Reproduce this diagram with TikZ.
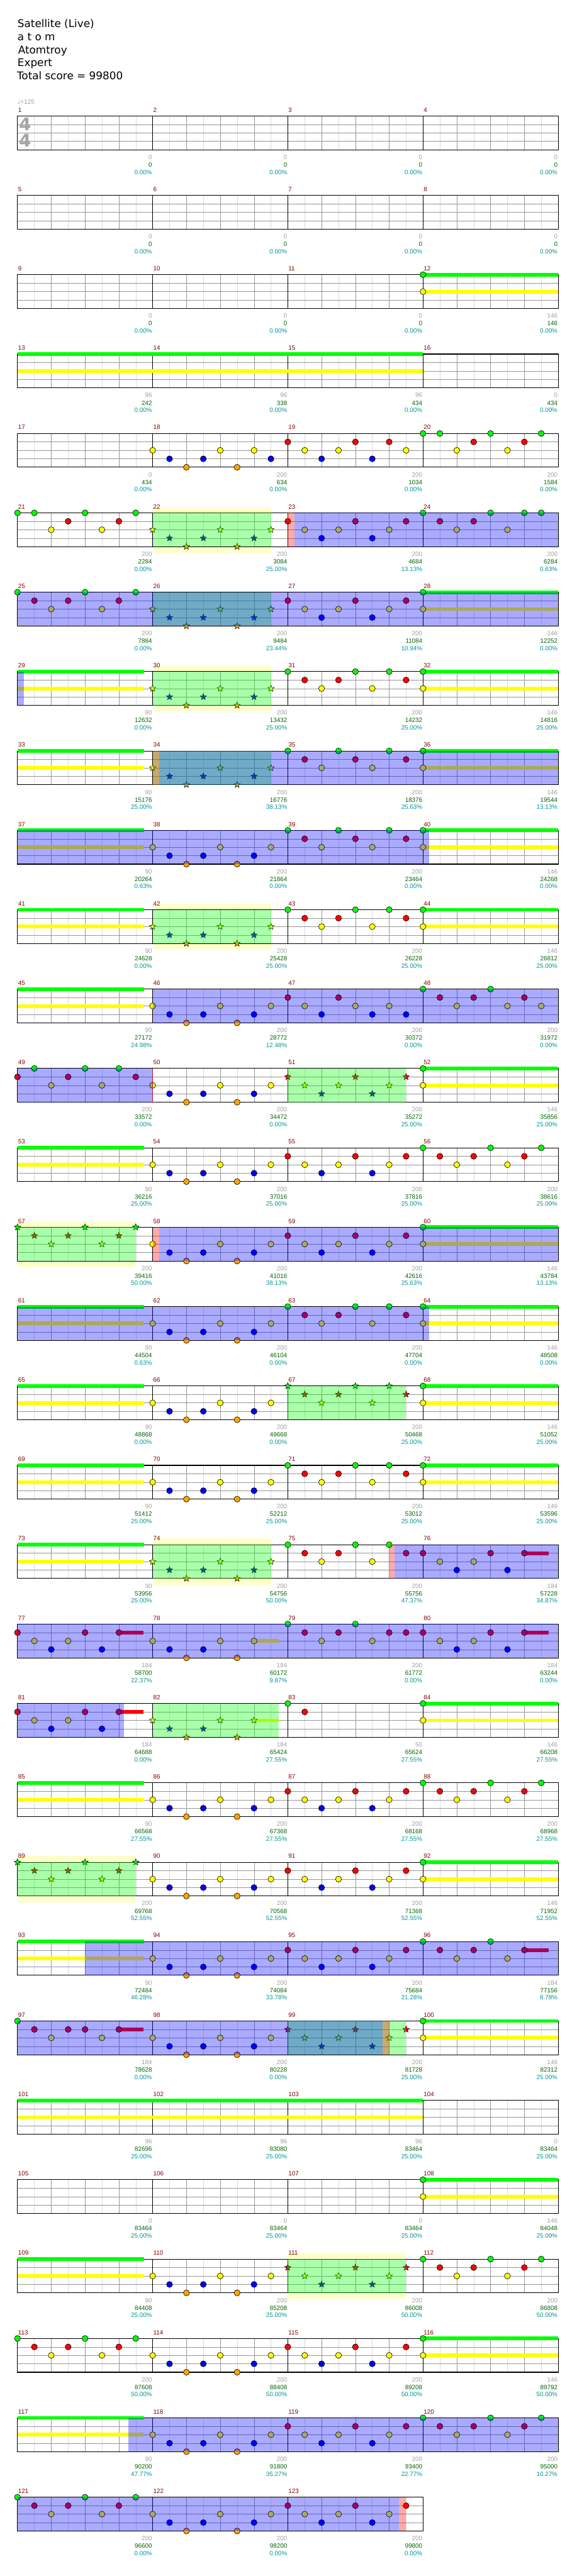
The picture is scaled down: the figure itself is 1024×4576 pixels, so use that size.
\documentclass[tikz,border=0pt]{standalone}
\usepackage{fontspec}
\setmainfont{Liberation Sans}
\newfontfamily\hdfont{DejaVu Sans}
\usetikzlibrary{shapes.geometric}

\definecolor{ln0}{RGB}{0,255,0}
\definecolor{ln1}{RGB}{255,0,0}
\definecolor{ln2}{RGB}{255,255,0}
\definecolor{ln3}{RGB}{0,0,255}
\definecolor{ln4}{RGB}{255,165,0}
\definecolor{gridc}{RGB}{150,150,150}
\definecolor{gridl}{RGB}{218,218,218}
\definecolor{mnumc}{RGB}{128,0,0}
\definecolor{ptc}{RGB}{160,160,160}
\definecolor{scc}{RGB}{0,100,0}
\definecolor{pcc}{RGB}{0,150,150}
\definecolor{paley}{RGB}{255,255,204}
\definecolor{tsc}{RGB}{165,165,165}
\definecolor{odend}{RGB}{190,20,40}

% note patterns: position/lane
\def\patA{0/2,1/3,2/4,3/3,4/2,5/4,6/3,7/2}
\def\patAa{0/2,1/3,2/4,3/3,4/2,5/4,6/2,7/3}
\def\patAs{0/2,1/3,2/4,3/3,4/2,5/4,6/2}
\def\patB{0/1,1/2,2/3,3/2,4/1,5/3,6/2,7/1}
\def\patBa{0/1,1/2,2/3,3/2,4/1,5/3,6/1,7/2}
\def\patF{0/1,1/2,2/3,3/2,4/1,5/3,6/1}
\def\patC{0/0,1/1,2/2,3/1,4/0,5/2,6/1,7/0}
\def\patCa{0/0,1/0,2/2,3/1,4/0,5/2,6/1,7/0}
\def\patD{0/0,1/1,2/2,3/1,4/0,5/2,6/0,7/1}
\def\patE{0/0,1/1,2/2,3/0,4/1,5/2,6/0,7/1}
\def\patS{0/0,0/2}

% measure: number, notes, star notes, points, score, percent
\newcommand\M[6]{%
  \pgfmathtruncatemacro\mrow{(#1-1)/4}%
  \pgfmathtruncatemacro\mcol{#1-1-4*\mrow}%
  \pgfmathsetmacro\mx{31+240*\mcol}%
  \pgfmathsetmacro\mxe{\mx+239}%
  \pgfmathsetmacro\my{206+141*\mrow}%
  \node[mnum] (n#1) at (\mx+1,\my-7) {#1};
  \edef\mnotes{#2}%
  \ifx\mnotes\empty\else
    \foreach \p/\l in \mnotes {\draw[note, fill=ln\l] (\mx+30*\p,\my+15*\l) circle[radius=5.3pt];}
  \fi
  \edef\mstars{#3}%
  \ifx\mstars\empty\else
    \foreach \p/\l in \mstars {\node[starnote, fill=ln\l] (t#1-\p) at (\mx+30*\p,\my+15*\l) {};}
  \fi
  \node[pts] (p#1) at (\mxe,\my+77) {#4};
  \node[scr] (s#1) at (\mxe,\my+90.5) {#5};
  \node[pct] (q#1) at (\mxe,\my+103.5) {#6};
}
\newcommand\sus[4]{\fill[ln#2] (#3,206+141*#1+15*#2-3.3) rectangle (#4,206+141*#1+15*#2+3.3);}
\newcommand\ovl[4]{\fill[#1, fill opacity=0.333] (#3,206+141*#2) rectangle (#4,206+141*#2+60);}

\begin{document}
\begin{tikzpicture}[x=1pt, y=-1pt,
  note/.style={draw=black, line width=0.7pt},
  starnote/.style={star, star points=5, star point ratio=2.3, minimum size=12pt, inner sep=0pt, draw=black, line width=0.6pt},
  lbl/.style={inner sep=0pt, font=\fontsize{11}{12}\selectfont},
  mnum/.style={lbl, anchor=base west, text=mnumc},
  pts/.style={lbl, anchor=base east, text=ptc},
  scr/.style={lbl, anchor=base east, text=scc},
  pct/.style={lbl, anchor=base east, text=pcc},
  hdr/.style={inner sep=0pt, anchor=base west, font=\hdfont\fontsize{18.8}{22}\selectfont},
  tsig/.style={inner sep=0pt, text=tsc, font=\hdfont\bfseries\fontsize{31}{31}\selectfont}
]
\fill[white] (0,0) rectangle (1024,4576);
\useasboundingbox (0,0) rectangle (1024,4576);

% header
\node[hdr] (title) at (31,49) {Satellite (Live)};
\node[hdr] (artist) at (31,72) {a t o m};
\node[hdr] (charter) at (32,95) {Atomtroy};
\node[hdr] (diff) at (31,118) {Expert};
\node[hdr] (total) at (30,141) {Total score = 99800};
\node[lbl, anchor=base west, text=ptc] (tempo) at (31,185) {{\hdfont ♩}=125};

% star phrase halo
\foreach \r/\a/\b in {5/271/481, 7/271/481, 10/271/481, 14/31/241, 18/271/481, 22/31/241, 27/511/721}
  \fill[paley] (\a,206+141*\r-11) rectangle (\b,206+141*\r+71);

% staffs
\foreach \r in {0,...,30} {
  \pgfmathsetmacro\T{206+141*\r}
  \pgfmathtruncatemacro\nm{\r==30 ? 3 : 4}
  \pgfmathsetmacro\W{31+240*\nm}
  \pgfmathtruncatemacro\nk{4*\nm-1}
  \pgfmathtruncatemacro\nb{\nm-1}
  \fill[white] (31,\T) rectangle (\W,\T+60);
  \foreach \k in {0,...,\nk} \draw[gridl] (61+60*\k,\T) -- (61+60*\k,\T+60);
  \foreach \k in {1,...,\nk} \draw[gridc] (31+60*\k,\T) -- (31+60*\k,\T+60);
  \foreach \j in {1,2,3} \draw[gridc] (31,\T+15*\j) -- (\W,\T+15*\j);
  \foreach \k in {1,...,\nb} \draw[black] (31+240*\k,\T) -- (31+240*\k,\T+60);
  \draw[black, line width=1.2pt] (31,\T) rectangle (\W,\T+60);
}
\node[tsig] (tsa) at (44.5,220.5) {4};
\node[tsig] (tsb) at (44.5,250) {4};

% sustains
\sus{2}{0}{751}{991} \sus{2}{2}{751}{991}
\sus{3}{0}{31}{751} \sus{3}{2}{31}{751}
\sus{24}{0}{751}{991} \sus{24}{2}{751}{991}
\sus{25}{0}{31}{751} \sus{25}{2}{31}{751}
\foreach \r in {6,7,8,9,10,12,14,15,16,17,20,22,26,28} {
  \pgfmathtruncatemacro\rn{\r+1}
  \sus{\r}{0}{751}{991} \sus{\r}{2}{751}{991}
  \sus{\rn}{0}{31}{256} \sus{\rn}{2}{31}{256}
}
\sus{18}{1}{931}{974}
\sus{19}{1}{211}{255}
\sus{19}{2}{451}{495}
\sus{19}{1}{931}{974}
\sus{20}{1}{211}{255}
\sus{20}{2}{451}{495}
\sus{23}{1}{931}{974}
\sus{24}{1}{211}{255}

% measures
\M{1}{}{}{0}{0}{0.00\%}
\M{2}{}{}{0}{0}{0.00\%}
\M{3}{}{}{0}{0}{0.00\%}
\M{4}{}{}{0}{0}{0.00\%}
\M{5}{}{}{0}{0}{0.00\%}
\M{6}{}{}{0}{0}{0.00\%}
\M{7}{}{}{0}{0}{0.00\%}
\M{8}{}{}{0}{0}{0.00\%}
\M{9}{}{}{0}{0}{0.00\%}
\M{10}{}{}{0}{0}{0.00\%}
\M{11}{}{}{0}{0}{0.00\%}
\M{12}{\patS}{}{146}{146}{0.00\%}
\M{13}{}{}{96}{242}{0.00\%}
\M{14}{}{}{96}{338}{0.00\%}
\M{15}{}{}{96}{434}{0.00\%}
\M{16}{}{}{0}{434}{0.00\%}
\M{17}{}{}{0}{434}{0.00\%}
\M{18}{\patAa}{}{200}{634}{0.00\%}
\M{19}{\patBa}{}{200}{1034}{0.00\%}
\M{20}{\patCa}{}{200}{1584}{0.00\%}
\M{21}{\patCa}{}{200}{2284}{0.00\%}
\M{22}{}{\patA}{200}{3084}{25.00\%}
\M{23}{\patB}{}{200}{4684}{13.13\%}
\M{24}{0/0,1/1,2/2,3/1,4/0,5/2,6/0,7/0}{}{200}{6284}{0.63\%}
\M{25}{\patC}{}{200}{7884}{0.00\%}
\M{26}{}{\patA}{200}{9484}{23.44\%}
\M{27}{\patB}{}{200}{11084}{10.94\%}
\M{28}{\patS}{}{146}{12252}{0.00\%}
\M{29}{}{}{90}{12632}{0.00\%}
\M{30}{}{\patA}{200}{13432}{25.00\%}
\M{31}{\patD}{}{200}{14232}{25.00\%}
\M{32}{\patS}{}{146}{14816}{25.00\%}
\M{33}{}{}{90}{15176}{25.00\%}
\M{34}{}{\patA}{200}{16776}{38.13\%}
\M{35}{\patE}{}{200}{18376}{25.63\%}
\M{36}{\patS}{}{146}{19544}{13.13\%}
\M{37}{}{}{90}{20264}{0.63\%}
\M{38}{\patA}{}{200}{21864}{0.00\%}
\M{39}{\patE}{}{200}{23464}{0.00\%}
\M{40}{\patS}{}{146}{24268}{0.00\%}
\M{41}{}{}{90}{24628}{0.00\%}
\M{42}{}{\patA}{200}{25428}{25.00\%}
\M{43}{\patD}{}{200}{26228}{25.00\%}
\M{44}{\patS}{}{146}{26812}{25.00\%}
\M{45}{}{}{90}{27172}{24.98\%}
\M{46}{\patA}{}{200}{28772}{12.48\%}
\M{47}{0/1,1/2,2/3,3/1,4/2,5/3,6/2,7/3}{}{200}{30372}{0.00\%}
\M{48}{0/0,1/1,2/2,3/1,4/0,5/2,6/1,7/2}{}{200}{31972}{0.00\%}
\M{49}{0/1,1/0,2/2,3/1,4/0,5/2,6/0,7/1}{}{200}{33572}{0.00\%}
\M{50}{\patA}{}{200}{34472}{0.00\%}
\M{51}{}{\patB}{200}{35272}{25.00\%}
\M{52}{\patS}{}{146}{35856}{25.00\%}
\M{53}{}{}{90}{36216}{25.00\%}
\M{54}{\patA}{}{200}{37016}{25.00\%}
\M{55}{\patB}{}{200}{37816}{25.00\%}
\M{56}{\patC}{}{200}{38616}{25.00\%}
\M{57}{}{\patC}{200}{39416}{50.00\%}
\M{58}{\patA}{}{200}{41016}{38.13\%}
\M{59}{\patB}{}{200}{42616}{25.63\%}
\M{60}{\patS}{}{146}{43784}{13.13\%}
\M{61}{}{}{90}{44504}{0.63\%}
\M{62}{\patA}{}{200}{46104}{0.00\%}
\M{63}{\patD}{}{200}{47704}{0.00\%}
\M{64}{\patS}{}{146}{48508}{0.00\%}
\M{65}{}{}{90}{48868}{0.00\%}
\M{66}{\patA}{}{200}{49668}{0.00\%}
\M{67}{}{\patD}{200}{50468}{25.00\%}
\M{68}{\patS}{}{146}{51052}{25.00\%}
\M{69}{}{}{90}{51412}{25.00\%}
\M{70}{\patA}{}{200}{52212}{25.00\%}
\M{71}{\patD}{}{200}{53012}{25.00\%}
\M{72}{\patS}{}{146}{53596}{25.00\%}
\M{73}{}{}{90}{53956}{25.00\%}
\M{74}{}{\patA}{200}{54756}{50.00\%}
\M{75}{\patD}{}{200}{55756}{47.37\%}
\M{76}{\patF}{}{184}{57228}{34.87\%}
\M{77}{\patF}{}{184}{58700}{22.37\%}
\M{78}{\patAs}{}{184}{60172}{9.87\%}
\M{79}{0/0,1/1,2/2,3/1,4/0,5/2,6/1,7/1}{}{200}{61772}{0.00\%}
\M{80}{\patF}{}{184}{63244}{0.00\%}
\M{81}{\patF}{}{184}{64688}{0.00\%}
\M{82}{}{\patAs}{184}{65424}{27.55\%}
\M{83}{0/0,1/1}{}{50}{65624}{27.55\%}
\M{84}{\patS}{}{146}{66208}{27.55\%}
\M{85}{}{}{90}{66568}{27.55\%}
\M{86}{\patA}{}{200}{67368}{27.55\%}
\M{87}{\patB}{}{200}{68168}{27.55\%}
\M{88}{\patC}{}{200}{68968}{27.55\%}
\M{89}{}{\patC}{200}{69768}{52.55\%}
\M{90}{\patA}{}{200}{70568}{52.55\%}
\M{91}{\patB}{}{200}{71368}{52.55\%}
\M{92}{\patS}{}{146}{71952}{52.55\%}
\M{93}{}{}{90}{72484}{46.28\%}
\M{94}{\patA}{}{200}{74084}{33.78\%}
\M{95}{\patB}{}{200}{75684}{21.28\%}
\M{96}{0/0,1/1,2/2,3/1,4/0,5/2,6/1}{}{184}{77156}{8.78\%}
\M{97}{0/0,1/1,2/2,3/1,4/1,5/2,6/1}{}{184}{78628}{0.00\%}
\M{98}{\patA}{}{200}{80228}{0.00\%}
\M{99}{}{\patB}{200}{81728}{25.00\%}
\M{100}{\patS}{}{146}{82312}{25.00\%}
\M{101}{}{}{96}{82696}{25.00\%}
\M{102}{}{}{96}{83080}{25.00\%}
\M{103}{}{}{96}{83464}{25.00\%}
\M{104}{}{}{0}{83464}{25.00\%}
\M{105}{}{}{0}{83464}{25.00\%}
\M{106}{}{}{0}{83464}{25.00\%}
\M{107}{}{}{0}{83464}{25.00\%}
\M{108}{\patS}{}{146}{84048}{25.00\%}
\M{109}{}{}{90}{84408}{25.00\%}
\M{110}{\patA}{}{200}{85208}{25.00\%}
\M{111}{}{\patB}{200}{86008}{50.00\%}
\M{112}{\patC}{}{200}{86808}{50.00\%}
\M{113}{\patC}{}{200}{87608}{50.00\%}
\M{114}{\patA}{}{200}{88408}{50.00\%}
\M{115}{\patB}{}{200}{89208}{50.00\%}
\M{116}{\patS}{}{146}{89792}{50.00\%}
\M{117}{}{}{90}{90200}{47.77\%}
\M{118}{\patA}{}{200}{91800}{35.27\%}
\M{119}{\patB}{}{200}{93400}{22.77\%}
\M{120}{\patC}{}{200}{95000}{10.27\%}
\M{121}{\patC}{}{200}{96600}{0.00\%}
\M{122}{\patA}{}{200}{98200}{0.00\%}
\M{123}{\patB}{}{200}{99800}{0.00\%}

% star phrases, overdrive, activation
\foreach \r/\a/\b in {5/271/481, 6/271/481, 7/271/481, 8/271/481, 10/271/481, 12/511/721, 14/31/241,
    16/511/721, 18/271/481, 20/271/495, 22/31/241, 24/511/721, 27/511/721}
  \ovl{ln0}{\r}{\a}{\b};
\foreach \r/\a/\b in {5/523/991, 6/31/991, 7/31/43, 8/283/991, 9/31/762, 11/271/991, 12/31/271,
    14/283/991, 15/31/762, 18/700/991, 19/31/991, 20/31/220, 23/151/991, 24/31/679, 29/228/991, 30/31/708}
  \ovl{ln3}{\r}{\a}{\b};
\foreach \r/\a/\b in {5/511/523, 8/271/283, 14/271/283, 18/691/700, 24/679/691, 30/708/721}
  \ovl{ln1}{\r}{\a}{\b};
\draw[odend] (271,1898) -- (271,1958);
\end{tikzpicture}
\end{document}
